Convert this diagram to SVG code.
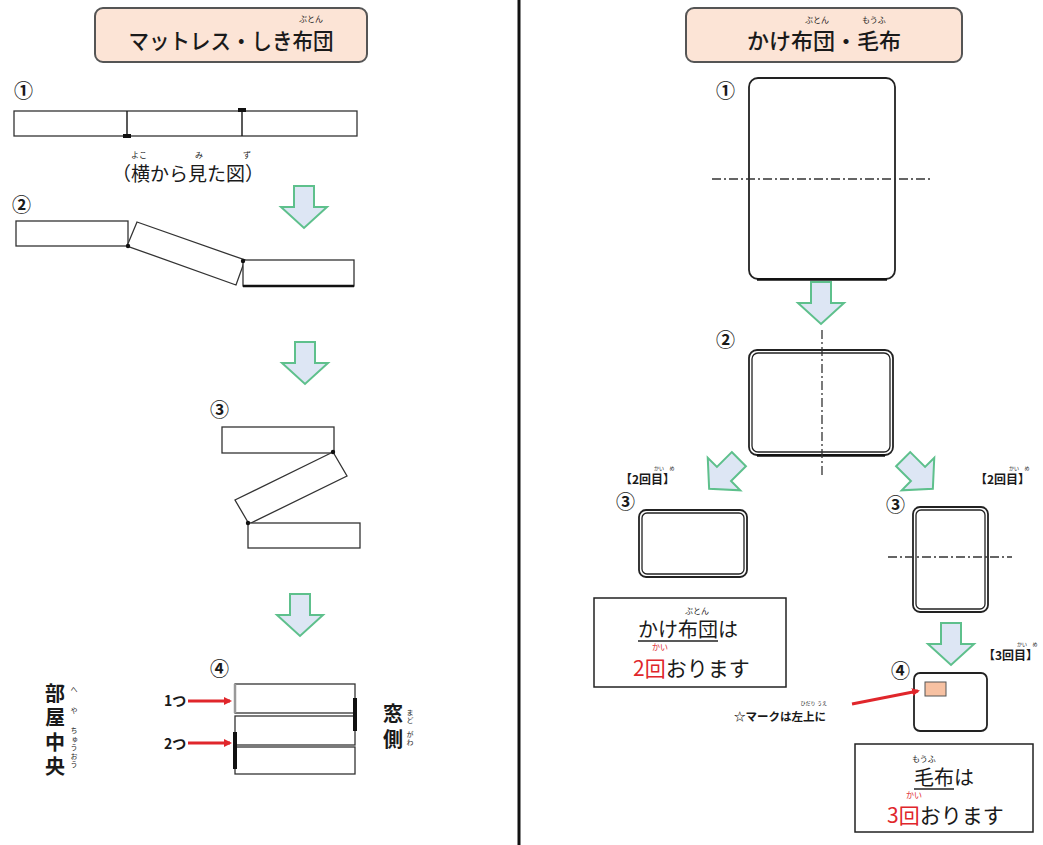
<svg xmlns="http://www.w3.org/2000/svg" width="1043" height="845" viewBox="0 0 1043 845">
<defs>
<style>
text{font-family:"Noto Sans CJK JP","Noto Sans",sans-serif;fill:#1a1a1a}
.hdr{fill:#fce4d6;stroke:#555;stroke-width:2}
.ht{font-size:22px;font-weight:500}
.rb{font-size:8px}
.num{font-size:19px;font-weight:700}
.bar{fill:#fff;stroke:#333;stroke-width:1.3}
.arw{fill:#dde6f4;stroke:#5ec08c;stroke-width:2;stroke-linejoin:miter}
.dash{stroke:#333;stroke-width:1.3;stroke-dasharray:9 3 2 3;fill:none}
.fut{fill:#fff;stroke:#222;stroke-width:1.8}
.fut2{fill:none;stroke:#222;stroke-width:1.3}
.lbl{font-size:12px;font-weight:700}
.red{fill:#e0262b}
.box{fill:#fff;stroke:#222;stroke-width:1.5}
.bt{font-size:20px}
.vt{font-size:20px;font-weight:700;writing-mode:vertical-rl}
.vr{font-size:7px;writing-mode:vertical-rl}
</style>
<polygon id="dn" points="-10,-21 10,-21 10,0 23,0 0,21 -23,0 -10,0"/>
<marker id="rh" markerWidth="8" markerHeight="8" refX="6" refY="4" orient="auto" markerUnits="userSpaceOnUse"><path d="M0,0 L8,4 L0,8 z" fill="#e0262b"/></marker>
</defs>
<rect width="1043" height="845" fill="#fff"/>

<line x1="519" y1="0" x2="519" y2="845" stroke="#111" stroke-width="3"/>

<g id="header-left">
<rect class="hdr" x="95" y="8" width="272" height="54" rx="8"/>
<text class="ht" x="231" y="49" text-anchor="middle" textLength="205" lengthAdjust="spacingAndGlyphs">マットレス・しき布団</text>
<text class="rb" x="311" y="22" text-anchor="middle">ぶとん</text>
</g>

<g id="header-right">
<rect class="hdr" x="686" y="8" width="276" height="54" rx="8"/>
<text class="ht" x="824" y="49" text-anchor="middle" textLength="154" lengthAdjust="spacingAndGlyphs">かけ布団・毛布</text>
<text class="rb" x="817" y="23" text-anchor="middle">ぶとん</text>
<text class="rb" x="874" y="23" text-anchor="middle">もうふ</text>
</g>

<g id="left-step1">
<text class="num" x="14" y="98">①</text>
<rect class="bar" x="14" y="111" width="343" height="25"/>
<line x1="127" y1="111" x2="127" y2="136" stroke="#222" stroke-width="1.5"/>
<line x1="242" y1="111" x2="242" y2="136" stroke="#222" stroke-width="1.5"/>
<rect x="123" y="134" width="8" height="4" fill="#111"/>
<rect x="238" y="108" width="8" height="4" fill="#111"/>
<text x="188" y="181" text-anchor="middle" font-size="19">（横から見た図）</text>
<text class="rb" x="139" y="158" text-anchor="middle" font-size="7">よこ</text>
<text class="rb" x="199" y="158" text-anchor="middle" font-size="7">み</text>
<text class="rb" x="247" y="158" text-anchor="middle" font-size="7">ず</text>
</g>

<g id="left-step2">
<text class="num" x="12" y="212">②</text>
<rect class="bar" x="16" y="221" width="112" height="25"/>
<polygon class="bar" points="137,222 245,260 236,285 127,246"/>
<rect class="bar" x="243" y="260" width="111" height="26"/>
<line x1="243" y1="286" x2="354" y2="286" stroke="#111" stroke-width="2.5"/>
<circle cx="128" cy="246" r="2.2" fill="#111"/>
<circle cx="243" cy="261" r="2.2" fill="#111"/>
</g>

<g id="left-step3">
<text class="num" x="210" y="417">③</text>
<rect class="bar" x="222" y="427" width="112" height="26"/>
<polygon class="bar" points="333,452 347,476 249,524 235,500"/>
<rect class="bar" x="248" y="523" width="112" height="25"/>
<circle cx="333" cy="452" r="2.2" fill="#111"/>
<circle cx="248" cy="523" r="2.2" fill="#111"/>
</g>

<g id="left-step4">
<text class="num" x="210" y="676">④</text>
<rect class="bar" x="235" y="684" width="120" height="29"/>
<rect class="bar" x="235" y="716" width="120" height="29"/>
<rect class="bar" x="235" y="747" width="120" height="27"/>
<line x1="235" y1="684" x2="235" y2="713" stroke="#999" stroke-width="2.5"/>
<line x1="355" y1="698" x2="355" y2="731" stroke="#111" stroke-width="4"/>
<line x1="235" y1="732" x2="235" y2="769" stroke="#111" stroke-width="4"/>
<text x="164" y="706" font-size="14" font-weight="700">1つ</text>
<line x1="188" y1="701" x2="230" y2="701" stroke="#e0262b" stroke-width="3" marker-end="url(#rh)"/>
<text x="164" y="749" font-size="14" font-weight="700">2つ</text>
<line x1="188" y1="743" x2="230" y2="743" stroke="#e0262b" stroke-width="3" marker-end="url(#rh)"/>
</g>

<g id="label-center">
<text class="vt" x="55" y="683" letter-spacing="4.5">部屋中央</text>
<text class="vr" x="74" y="686">へ</text>
<text class="vr" x="74" y="707">や</text>
<text class="vr" x="74" y="727" letter-spacing="1.5">ちゅうおう</text>
</g>

<g id="label-window">
<text class="vt" x="393" y="703" letter-spacing="6">窓側</text>
<text class="vr" x="410" y="709" letter-spacing="1">まど</text>
<text class="vr" x="410" y="731" letter-spacing="1">がわ</text>
</g>

<g id="right-step1">
<text class="num" x="716" y="98">①</text>
<rect class="fut" x="749" y="78" width="146" height="201" rx="9"/>
<line x1="757" y1="279.5" x2="887" y2="279.5" stroke="#111" stroke-width="2.5"/>
<line class="dash" x1="712" y1="179" x2="933" y2="179"/>
</g>

<g id="right-step2">
<text class="num" x="716" y="347">②</text>
<rect class="fut" x="749" y="350" width="144" height="105" rx="8"/>
<rect class="fut2" x="752" y="353" width="138" height="99" rx="6"/>
<line x1="757" y1="455.5" x2="885" y2="455.5" stroke="#111" stroke-width="2.5"/>
<line class="dash" x1="822" y1="330" x2="822" y2="478"/>
</g>

<g id="right-step3a">
<text class="lbl" x="620" y="484">【2回目】</text>
<text x="659" y="470" font-size="5" text-anchor="middle">かい</text>
<text x="672" y="470" font-size="5" text-anchor="middle">め</text>
<text class="num" x="616" y="509">③</text>
<rect class="fut" x="639" y="510" width="108" height="67" rx="7"/>
<rect class="fut2" x="642" y="513" width="102" height="61" rx="5"/>
</g>

<g id="right-step3b">
<text class="lbl" x="975" y="484">【2回目】</text>
<text x="1014" y="470" font-size="5" text-anchor="middle">かい</text>
<text x="1027" y="470" font-size="5" text-anchor="middle">め</text>
<text class="num" x="886" y="512">③</text>
<rect class="fut" x="913" y="507" width="75" height="105" rx="7"/>
<rect class="fut2" x="916" y="510" width="69" height="99" rx="5"/>
<line class="dash" x1="888" y1="557" x2="1012" y2="557"/>
</g>

<g id="right-step4">
<text class="lbl" x="983" y="660">【3回目】</text>
<text x="1022" y="646" font-size="5" text-anchor="middle">かい</text>
<text x="1035" y="646" font-size="5" text-anchor="middle">め</text>
<text class="num" x="891" y="678">④</text>
<rect class="fut" x="914" y="673" width="73" height="58" rx="6"/>
<rect x="925" y="682" width="21" height="14" fill="#f7c1a2" stroke="#555" stroke-width="1"/>
<line x1="852" y1="704" x2="918" y2="691" stroke="#e0262b" stroke-width="3" marker-end="url(#rh)"/>
<text x="734" y="721" font-size="11.5" font-weight="700">☆マークは左上に</text>
<text x="808" y="705" font-size="5" text-anchor="middle">ひだり</text>
<text x="822" y="705" font-size="5" text-anchor="middle">うえ</text>
</g>

<g id="note-kake">
<rect class="box" x="594" y="598" width="192" height="89"/>
<text class="bt" x="638" y="637">かけ布団は</text>
<line x1="638" y1="641" x2="718" y2="641" stroke="#222" stroke-width="1.3"/>
<text class="rb" x="697" y="614" text-anchor="middle">ぶとん</text>
<text x="633" y="676" font-size="21"><tspan class="red">2回</tspan>おります</text>
<text class="rb red" x="660" y="650" text-anchor="middle" font-size="7.5">かい</text>
</g>

<g id="note-moufu">
<rect class="box" x="855" y="744" width="178" height="88"/>
<text class="bt" x="914" y="785">毛布は</text>
<line x1="914" y1="789" x2="954" y2="789" stroke="#222" stroke-width="1.3"/>
<text class="rb" x="924" y="762" text-anchor="middle">もうふ</text>
<text x="887" y="823" font-size="21"><tspan class="red">3回</tspan>おります</text>
<text class="rb red" x="914" y="798" text-anchor="middle" font-size="7.5">かい</text>
</g>

<g id="connectors">
<use href="#dn" class="arw" transform="translate(304,207)"/>
<use href="#dn" class="arw" transform="translate(305,363)"/>
<use href="#dn" class="arw" transform="translate(300,615)"/>
<use href="#dn" class="arw" transform="translate(821,303)"/>
<use href="#dn" class="arw" transform="translate(724,474) rotate(45)"/>
<use href="#dn" class="arw" transform="translate(918,474) rotate(-45)"/>
<use href="#dn" class="arw" transform="translate(951,644)"/>
</g>
</svg>
